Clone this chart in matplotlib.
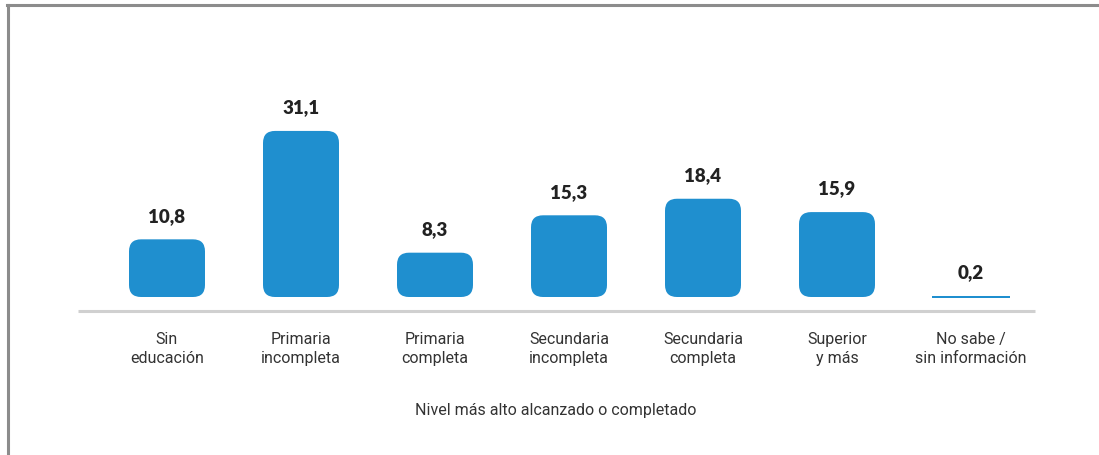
import numpy as np
import matplotlib
matplotlib.use('Agg')
import matplotlib.pyplot as plt
from matplotlib.patches import FancyBboxPatch
from matplotlib.lines import Line2D

categories = ['Sin\neducación', 'Primaria\nincompleta', 'Primaria\ncompleta',
              'Secundaria\nincompleta', 'Secundaria\ncompleta', 'Superior\ny más',
              'No sabe /\nsin información']
values = [10.8, 31.1, 8.3, 15.3, 18.4, 15.9, 0.2]
labels = ['10,8', '31,1', '8,3', '15,3', '18,4', '15,9', '0,2']
xlabel = 'Nivel más alto alcanzado o completado'

blue = '#1f8fcf'
W, H = 1099, 455
fig = plt.figure(figsize=(W / 100, H / 100), dpi=100)
ax = fig.add_axes([0, 0, 1, 1])

# pixel geometry -> data limits
x0, dx = 167, 134
y0, dy = 297, 5.34
ax.set_xlim(-x0 / dx, (W - x0) / dx)
ax.set_ylim(-(H - y0) / dy, y0 / dy)
ax.axis('off')

bw = 76 / dx
r = 12 / dx
aspect = dx / dy
x = np.arange(len(values))

for i, v in enumerate(values):
	if v * dy > 2 * 12:
		p = FancyBboxPatch((x[i] - bw / 2, 0), bw, v,
			boxstyle='round,pad=0,rounding_size=%f' % r,
			mutation_aspect=aspect, fc=blue, ec='none')
		ax.add_patch(p)
	else:
		ax.bar(x[i], max(v, 2 / dy), width=78 / dx, color=blue, bottom=-0.1)
	ax.annotate(labels[i], (x[i], v), xytext=(0, 10.5), textcoords='offset points',
		ha='center', va='bottom', fontsize=13.5, fontweight='heavy',
		family='Lato', color='#222222')
	ax.text(x[i], -(349 - y0) / dy, categories[i], ha='center', va='center',
		fontsize=11.5, family='Roboto', color='#333333', linespacing=1.3)

# baseline
ax.plot([(78 - x0) / dx, (1035 - x0) / dx], [-(311 - y0) / dy] * 2,
	color='#d0d0d0', lw=2.2, solid_capstyle='butt')

ax.text((556 - x0) / dx, -(410 - y0) / dy, xlabel, ha='center', va='center',
	fontsize=11.5, family='Roboto', color='#333333')

# frame
fig.add_artist(Line2D([7 / W, 1], [1 - 4.5 / H] * 2, color='#8c8c8c', lw=2.2))
fig.add_artist(Line2D([8 / W] * 2, [0, 1 - 4.5 / H], color='#8c8c8c', lw=2.2))

fig.savefig('out.png', dpi=100)
